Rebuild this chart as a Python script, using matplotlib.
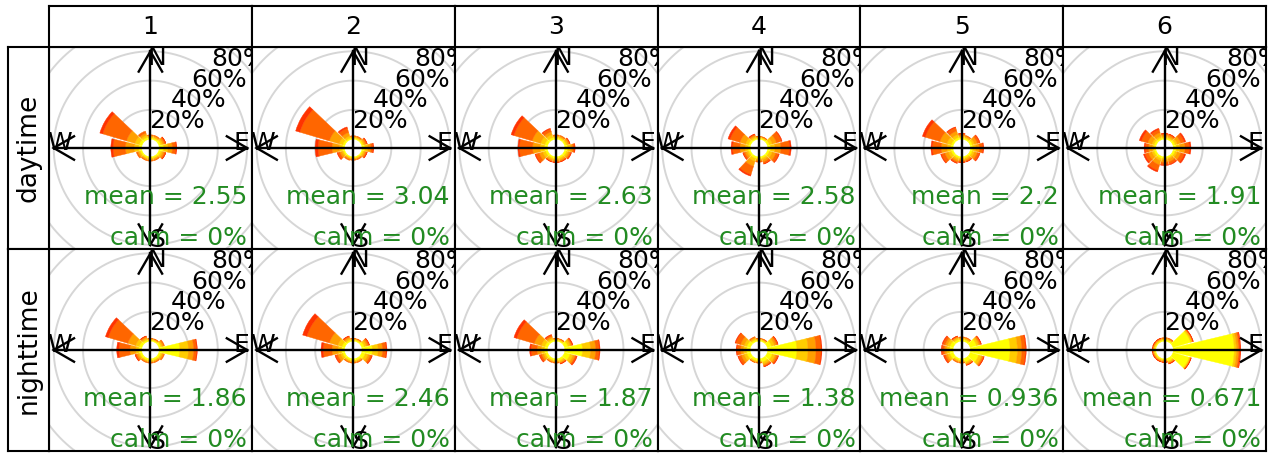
import matplotlib
matplotlib.use('Agg')
import matplotlib.pyplot as plt
from matplotlib.patches import Wedge
import numpy as np

plt.rcParams['font.family'] = ['DejaVu Sans']

# ---------------- data ----------------
directions = [30, 60, 90, 120, 150, 180, 210, 240, 270, 300, 330, 360]
speed_colours = ['#FFFF00', '#FFCC00', '#FFA000', '#FF6600', '#FF3300']
columns = ['1', '2', '3', '4', '5', '6']
rows = ['daytime', 'nighttime']
mean_day = [2.55, 3.04, 2.63, 2.58, 2.2, 1.91]
mean_night = [1.86, 2.46, 1.87, 1.38, 0.936, 0.671]
calm_day = [0, 0, 0, 0, 0, 0]
calm_night = [0, 0, 0, 0, 0, 0]
grid_labels = [20, 40, 60, 80]

# frequency (%) per direction, split by speed band (yellow -> red)
day1 = [[1.0, 0.8, 0.8, 0.4, 0.0], [1.5, 1.2, 1.2, 1.0, 0.1], [3.0, 3.0, 3.0, 2.5, 0.5],
        [1.5, 1.2, 1.2, 1.0, 0.1], [1.0, 0.8, 0.8, 0.4, 0.0], [1.0, 0.8, 0.8, 0.4, 0.0],
        [1.0, 0.8, 0.8, 0.4, 0.0], [1.2, 1.0, 1.0, 0.8, 0.0], [2.0, 3.0, 6.0, 8.5, 1.5],
        [2.0, 3.0, 6.0, 17.0, 2.0], [1.5, 1.5, 1.5, 1.5, 0.0], [1.0, 0.8, 0.8, 0.4, 0.0]]
day2 = [[0.8, 0.6, 0.6, 0.4, 0.0], [1.0, 1.0, 1.0, 0.8, 0.2], [2.0, 2.0, 2.0, 1.5, 0.5],
        [1.0, 1.0, 1.0, 0.8, 0.2], [0.8, 0.6, 0.6, 0.4, 0.0], [0.8, 0.6, 0.6, 0.4, 0.0],
        [0.8, 0.6, 0.8, 0.6, 0.0], [1.0, 1.0, 1.5, 1.5, 0.5], [1.5, 2.0, 5.0, 9.5, 2.0],
        [1.5, 2.5, 7.0, 21.0, 3.0], [1.0, 1.5, 2.5, 3.0, 1.0], [0.8, 0.6, 0.6, 0.4, 0.0]]
day3 = [[1.0, 0.8, 0.8, 0.4, 0.0], [1.2, 1.0, 1.0, 0.6, 0.2], [2.0, 1.8, 1.6, 1.2, 0.4],
        [1.5, 1.2, 1.2, 0.8, 0.3], [1.2, 1.0, 1.0, 0.6, 0.2], [1.2, 1.0, 1.0, 0.6, 0.2],
        [1.2, 1.0, 1.0, 0.6, 0.2], [1.5, 2.0, 2.5, 2.5, 0.5], [2.0, 3.0, 5.0, 9.0, 1.0],
        [2.0, 3.0, 6.0, 13.0, 2.0], [1.5, 2.0, 2.0, 2.0, 0.5], [1.0, 0.8, 0.8, 0.4, 0.0]]
day4 = [[0.8, 0.6, 0.4, 0.2, 0.0], [1.5, 2.0, 3.0, 3.5, 0.5], [2.0, 3.0, 4.0, 6.0, 1.0],
        [1.5, 2.0, 2.5, 2.0, 0.5], [1.2, 1.2, 1.5, 1.3, 0.3], [1.0, 1.0, 1.0, 0.7, 0.0],
        [1.5, 2.0, 3.5, 6.0, 1.0], [1.2, 1.2, 1.5, 1.3, 0.3], [1.5, 2.0, 3.5, 5.0, 1.0],
        [1.5, 2.0, 4.0, 7.0, 1.5], [1.0, 1.0, 1.0, 0.7, 0.3], [0.8, 0.6, 0.4, 0.2, 0.0]]
day5 = [[1.0, 0.8, 0.8, 0.4, 0.0], [1.5, 1.5, 2.0, 1.5, 0.5], [1.5, 2.0, 2.5, 2.5, 0.5],
        [1.5, 1.5, 2.0, 1.5, 0.5], [1.0, 1.0, 1.0, 0.8, 0.2], [1.0, 1.0, 1.0, 0.8, 0.2],
        [1.2, 1.2, 1.3, 1.0, 0.3], [1.5, 2.0, 2.5, 2.5, 0.5], [1.5, 2.5, 4.0, 6.0, 1.0],
        [1.5, 3.0, 5.0, 10.5, 2.0], [1.5, 2.0, 2.5, 2.5, 0.5], [1.0, 1.0, 1.0, 0.8, 0.2]]
day6 = [[1.0, 0.8, 1.2, 0.8, 0.2], [1.5, 1.5, 2.5, 2.5, 1.0], [2.0, 2.5, 3.5, 3.0, 1.0],
        [1.5, 1.5, 2.5, 2.5, 1.0], [1.0, 1.0, 1.8, 1.7, 0.5], [1.0, 1.0, 1.8, 1.7, 0.5],
        [1.5, 1.5, 3.0, 4.0, 1.0], [1.5, 1.5, 2.5, 2.5, 1.0], [1.2, 1.2, 2.5, 2.3, 0.8],
        [1.5, 1.5, 3.0, 4.5, 1.5], [1.2, 1.2, 2.5, 2.3, 0.8], [1.0, 0.8, 1.2, 0.8, 0.2]]

night1 = [[0.8, 0.6, 0.4, 0.2, 0.0], [1.5, 1.0, 1.0, 0.5, 0.0], [14.0, 6.0, 3.5, 2.0, 0.5],
          [1.5, 1.0, 1.0, 0.5, 0.0], [1.2, 0.8, 0.6, 0.4, 0.0], [1.2, 0.8, 0.6, 0.4, 0.0],
          [1.2, 0.8, 0.6, 0.4, 0.0], [1.5, 1.0, 1.2, 1.0, 0.3], [2.0, 2.0, 4.0, 7.5, 1.5],
          [2.0, 2.5, 5.5, 14.0, 2.0], [1.2, 1.0, 1.0, 0.6, 0.2], [0.8, 0.6, 0.4, 0.2, 0.0]]
night2 = [[0.8, 0.6, 0.4, 0.2, 0.0], [1.8, 1.5, 1.2, 1.0, 0.1], [7.0, 4.0, 3.0, 2.5, 0.5],
          [2.5, 2.0, 1.5, 1.2, 0.4], [1.2, 0.8, 0.6, 0.4, 0.0], [1.2, 0.8, 0.6, 0.4, 0.0],
          [1.2, 0.8, 0.6, 0.4, 0.0], [1.5, 1.5, 2.0, 1.5, 0.5], [2.0, 2.5, 4.0, 6.0, 1.5],
          [2.0, 3.0, 6.0, 16.0, 3.0], [1.0, 1.0, 1.0, 0.8, 0.2], [0.8, 0.6, 0.4, 0.2, 0.0]]
night3 = [[0.8, 0.6, 0.4, 0.2, 0.0], [2.5, 1.5, 1.0, 0.7, 0.3], [12.0, 5.5, 3.5, 2.5, 0.5],
          [4.0, 2.0, 1.5, 1.0, 0.5], [1.5, 1.0, 0.8, 0.5, 0.2], [1.2, 0.8, 0.6, 0.4, 0.0],
          [1.2, 0.8, 0.6, 0.4, 0.0], [1.5, 1.2, 1.5, 1.3, 0.5], [2.0, 2.0, 3.0, 4.0, 1.0],
          [2.0, 2.5, 5.0, 12.5, 2.0], [1.2, 1.2, 1.2, 1.0, 0.4], [0.8, 0.6, 0.4, 0.2, 0.0]]
night4 = [[0.8, 0.6, 0.4, 0.2, 0.0], [3.0, 2.0, 1.5, 1.0, 0.2], [20.0, 7.5, 5.5, 3.5, 0.5],
          [3.5, 2.0, 1.2, 1.0, 0.3], [2.5, 1.5, 1.0, 0.8, 0.2], [1.5, 0.8, 0.5, 0.2, 0.0],
          [1.5, 0.8, 0.5, 0.2, 0.0], [2.5, 2.0, 2.0, 2.0, 0.5], [2.5, 2.0, 2.0, 2.5, 0.5],
          [2.5, 2.0, 2.5, 3.5, 0.5], [1.2, 1.0, 0.8, 0.5, 0.0], [0.8, 0.6, 0.4, 0.2, 0.0]]
night5 = [[1.2, 0.8, 0.6, 0.4, 0.0], [4.5, 1.5, 1.0, 0.8, 0.2], [27.0, 5.0, 3.0, 2.5, 0.5],
          [6.0, 2.0, 1.0, 0.8, 0.2], [2.5, 1.0, 0.8, 0.5, 0.2], [1.2, 0.8, 0.6, 0.4, 0.0],
          [1.2, 0.8, 0.6, 0.4, 0.0], [2.5, 1.5, 1.3, 1.2, 0.5], [2.5, 1.8, 1.5, 1.6, 0.6],
          [2.5, 1.8, 1.5, 1.6, 0.6], [1.5, 1.0, 0.8, 0.5, 0.2], [1.2, 0.8, 0.6, 0.4, 0.0]]
night6 = [[1.0, 0.6, 0.5, 0.4, 0.0], [12.5, 1.0, 0.5, 0.3, 0.2], [41.5, 1.5, 1.5, 1.0, 0.5],
          [11.5, 0.8, 0.4, 0.2, 0.1], [2.0, 0.8, 0.6, 0.4, 0.2], [0.8, 0.6, 0.6, 0.4, 0.1],
          [0.8, 0.6, 0.6, 0.4, 0.1], [0.8, 0.6, 0.6, 0.4, 0.1], [0.8, 0.6, 0.6, 0.4, 0.1],
          [0.8, 0.6, 0.6, 0.4, 0.1], [0.8, 0.6, 0.6, 0.4, 0.1], [1.0, 0.6, 0.5, 0.4, 0.0]]

day_panels = [day1, day2, day3, day4, day5, day6]
night_panels = [night1, night2, night3, night4, night5, night6]

# ---------------- layout ----------------
W, H = 1274, 455
ppu = 1.465            # pixels per % unit
offset = 6             # hole in the middle
upper = 66             # arrow length
seg = 0.9              # fraction of sector used by a wedge
pl, pt = 49.0, 47.0
pw, ph = (1266.0 - 49.0) / 6, (451.0 - 47.0) / 2
strip_top = 6.0
strip_left = 8.0
FS = 18
green = '#228B22'

fig = plt.figure(figsize=(W / 100, H / 100), dpi=100)


def fax(x0, y0, w, h):
    return fig.add_axes([x0 / W, 1 - (y0 + h) / H, w / W, h / H])


def style(ax):
    ax.set_xticks([])
    ax.set_yticks([])
    for s in ax.spines.values():
        s.set_linewidth(1.5)
        s.set_color('black')


def arrow(ax, tip, d):
    L = 16.0
    a = np.deg2rad(30)
    bx, by = -d[0], -d[1]
    pts = []
    for sgn in (1, -1):
        c, s = np.cos(sgn * a), np.sin(sgn * a)
        pts.append((tip[0] + L * (c * bx - s * by), tip[1] + L * (s * bx + c * by)))
    ax.plot([pts[0][0], tip[0], pts[1][0]], [pts[0][1], tip[1], pts[1][1]],
            color='black', lw=1.7, zorder=4, solid_joinstyle='miter')


def draw_panel(ax, data, mean, calm):
    style(ax)
    hx = pw / 2 / ppu
    hy = ph / 2 / ppu
    ax.set_xlim(-hx, hx)
    ax.set_ylim(-hy, hy)
    th = np.linspace(0, 2 * np.pi, 361)
    for k in range(1, 6):
        r = offset + 20 * k
        ax.plot(r * np.sin(th), r * np.cos(th), color='#D6D6D6', lw=1.4, zorder=1)
    half = seg * 30 / 2
    for d, bands in zip(directions, data):
        cum = 0.0
        for val, col in zip(bands, speed_colours):
            if val <= 0:
                continue
            r1 = offset + cum
            r2 = offset + cum + val
            w = Wedge((0, 0), r2, 90 - d - half, 90 - d + half, width=r2 - r1,
                      facecolor=col, edgecolor=col, lw=0.3, zorder=2)
            ax.add_patch(w)
            cum += val
    # axes with arrows
    ax.plot([-upper, upper], [0, 0], color='black', lw=1.7, zorder=4)
    ax.plot([0, 0], [-upper, upper], color='black', lw=1.7, zorder=4)
    arrow(ax, (0, upper), (0, 1))
    arrow(ax, (0, -upper), (0, -1))
    arrow(ax, (upper, 0), (1, 0))
    arrow(ax, (-upper, 0), (-1, 0))
    ax.text(0.07 * upper, 0.93 * upper, 'N', ha='center', va='center', fontsize=FS, zorder=5, clip_on=True)
    ax.text(0.07 * upper, -0.95 * upper, 'S', ha='center', va='center', fontsize=FS, zorder=5, clip_on=True)
    ax.text(0.94 * upper, 0.05 * upper, 'E', ha='center', va='center', fontsize=FS, zorder=5, clip_on=True)
    ax.text(-0.94 * upper, 0.05 * upper, 'W', ha='center', va='center', fontsize=FS, zorder=5, clip_on=True)
    for lab in grid_labels:
        r = offset + lab
        ax.text(r * np.sin(np.pi / 4), r * np.cos(np.pi / 4), f'{lab}%', ha='center', va='center',
                fontsize=FS, zorder=5, clip_on=True)
    ax.text(upper, -38.2, f'mean = {mean:g}', ha='right', va='baseline', color=green,
            fontsize=FS, zorder=6, clip_on=True)
    ax.text(upper, -66.5, f'calm = {calm:g}%', ha='right', va='baseline', color=green,
            fontsize=FS, zorder=6, clip_on=True)


for j, (panels, means, calms) in enumerate([(day_panels, mean_day, calm_day),
                                             (night_panels, mean_night, calm_night)]):
    for i in range(6):
        ax = fax(pl + i * pw, pt + j * ph, pw, ph)
        draw_panel(ax, panels[i], means[i], calms[i])

# strips
for i, lab in enumerate(columns):
    ax = fax(pl + i * pw, strip_top, pw, pt - strip_top)
    style(ax)
    ax.text(0.5, 0.5, lab, ha='center', va='center', fontsize=FS, transform=ax.transAxes)
for j, lab in enumerate(rows):
    ax = fax(strip_left, pt + j * ph, pl - strip_left, ph)
    style(ax)
    ax.text(0.5, 0.5, lab, ha='center', va='center', rotation=90, fontsize=FS + 1,
            transform=ax.transAxes)

fig.savefig('out.png', dpi=100)
